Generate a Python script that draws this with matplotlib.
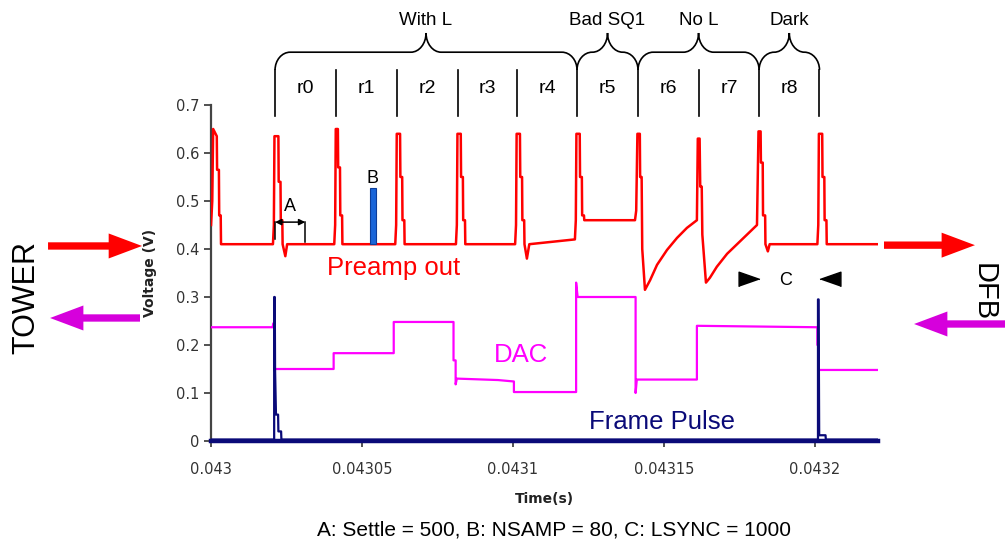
import numpy as np
import matplotlib.pyplot as plt
from matplotlib.path import Path
from matplotlib.patches import PathPatch

plt.rcParams['font.family'] = ['Liberation Sans', 'DejaVu Sans']

T0 = 0.043          # start of the capture window (s)

# row boundaries in us after T0 (one readout row = 20 us)
row_edges_us = [21.2, 41.5, 61.7, 81.8, 101.4, 121.2, 141.4, 161.5, 181.5, 201.5]
row_names = ['r0', 'r1', 'r2', 'r3', 'r4', 'r5', 'r6', 'r7', 'r8']
groups = [('With L', 0, 5), ('Bad SQ1', 5, 6), ('No L', 6, 8), ('Dark', 8, 9)]

# preamp output (V)
preamp_us = [
    0.0, 0.4, 0.7, 1.9, 2.0, 2.6, 2.7, 3.2, 3.3,
    20.5, 20.8, 21.0, 22.3, 22.4, 23.0, 23.1, 23.6, 23.7, 24.6, 25.2,
    40.8, 41.1, 41.3, 42.0, 42.1, 42.7, 42.8, 43.4, 43.5,
    61.0, 61.3, 61.5, 62.6, 62.7, 63.3, 63.4, 64.0, 64.1,
    81.1, 81.4, 81.6, 82.7, 82.8, 83.4, 83.5, 84.1, 84.2,
    100.7, 101.0, 101.2, 102.3, 102.4, 103.0, 103.1, 103.7, 103.8, 104.6, 105.4,
    120.5, 120.8, 121.0, 122.1, 122.2, 122.8, 122.9, 123.5, 123.6, 140.4, 140.8,
    141.2, 142.0, 142.1, 142.6, 142.8, 143.7, 145.4, 147.7, 151.0, 154.3, 157.6, 160.9,
    161.2, 161.8, 162.0, 162.5, 162.7, 163.9, 165.2, 167.5, 170.9, 174.2, 177.5, 180.8,
    181.3, 182.0, 182.1, 182.7, 182.8, 183.5, 183.6, 184.4, 185.0,
    200.8, 201.1, 201.3, 202.4, 202.5, 203.1, 203.2, 203.8, 203.9, 220.9,
]
preamp_v = [
    0.45, 0.50, 0.65, 0.635, 0.565, 0.565, 0.47, 0.47, 0.41,
    0.41, 0.45, 0.635, 0.635, 0.54, 0.54, 0.46, 0.46, 0.41, 0.385, 0.41,
    0.41, 0.45, 0.65, 0.65, 0.57, 0.57, 0.47, 0.47, 0.41,
    0.41, 0.45, 0.64, 0.64, 0.55, 0.55, 0.46, 0.46, 0.41,
    0.41, 0.45, 0.64, 0.64, 0.55, 0.55, 0.46, 0.46, 0.41,
    0.41, 0.45, 0.64, 0.64, 0.55, 0.55, 0.46, 0.46, 0.41, 0.38, 0.41,
    0.42, 0.46, 0.64, 0.64, 0.55, 0.55, 0.47, 0.47, 0.46, 0.46, 0.48,
    0.64, 0.64, 0.55, 0.55, 0.40, 0.315, 0.335, 0.367, 0.398, 0.423, 0.444, 0.46,
    0.63, 0.63, 0.53, 0.53, 0.43, 0.33, 0.34, 0.363, 0.39, 0.41, 0.43, 0.45,
    0.645, 0.645, 0.58, 0.58, 0.47, 0.47, 0.41, 0.395, 0.41,
    0.41, 0.45, 0.64, 0.64, 0.55, 0.55, 0.46, 0.46, 0.41, 0.41,
]

# feedback DAC (V)
dac_us = [0.0, 20.4, 20.6, 20.9, 20.9, 40.6, 40.6, 60.5, 60.5, 80.3, 80.3, 81.0, 81.0,
          81.4, 95.0, 100.3, 100.3, 120.9, 120.9, 121.4, 140.6, 140.6, 141.0, 160.9,
          160.9, 200.8, 200.8, 201.1, 201.1, 220.9]
dac_v = [0.237, 0.237, 0.245, 0.245, 0.15, 0.15, 0.183, 0.183, 0.248, 0.248, 0.168, 0.168,
         0.118, 0.13, 0.127, 0.124, 0.102, 0.102, 0.33, 0.30, 0.30, 0.10, 0.128, 0.128,
         0.24, 0.237, 0.20, 0.20, 0.148, 0.148]

# frame pulse (V)
frame_us = [0.0, 20.9, 20.9, 21.1, 21.2, 21.5, 22.2, 22.3, 23.2, 23.3,
            201.0, 201.0, 201.2, 201.4, 203.5, 203.6, 220.9]
frame_v = [0.003, 0.003, 0.30, 0.30, 0.148, 0.055, 0.055, 0.02, 0.02, 0.003,
           0.003, 0.295, 0.295, 0.012, 0.012, 0.003, 0.003]

xtick_us = [0, 50, 100, 150, 200]
xtick_labels = ['0.043', '0.04305', '0.0431', '0.04315', '0.0432']
ytick_vals = [0, 0.1, 0.2, 0.3, 0.4, 0.5, 0.6, 0.7]
ytick_labels = ['0', '0.1', '0.2', '0.3', '0.4', '0.5', '0.6', '0.7']

settle_us = 10.0      # A: 500 clocks at 50 MHz
nsamp_us = (52.5, 54.7)  # B window
footnote = 'A: Settle = 500, B: NSAMP = 80, C: LSYNC = 1000'


def sec(us):
    return T0 + np.asarray(us) * 1e-6


def brace(ax, x0, x1, yb, ym, yp, r):
    xm = (x0 + x1) / 2
    k = 0.55
    verts = [(x0, yb),
             (x0, yb + k * (ym - yb)), (x0 + r * (1 - k), ym), (x0 + r, ym),
             (xm - r, ym),
             (xm - r * (1 - k), ym), (xm, yp - k * (yp - ym)), (xm, yp),
             (xm, yp - k * (yp - ym)), (xm + r * (1 - k), ym), (xm + r, ym),
             (x1 - r, ym),
             (x1 - r * (1 - k), ym), (x1, yb + k * (ym - yb)), (x1, yb)]
    codes = ([Path.MOVETO] + [Path.CURVE4] * 3 + [Path.LINETO] + [Path.CURVE4] * 6
             + [Path.LINETO] + [Path.CURVE4] * 3)
    ax.add_patch(PathPatch(Path(verts, codes), fill=False, lw=1.2, color='black',
                           clip_on=False, transform=ax.transData))


fig = plt.figure(figsize=(10.05, 5.46), dpi=100)
ax = fig.add_axes([0.2100, 0.1923, 0.6637, 0.6154])

ax.plot(sec(preamp_us), preamp_v, color='#ff0000', lw=1.8, zorder=3)
ax.plot(sec(dac_us), dac_v, color='#ff00ff', lw=1.6, zorder=3)
ax.plot(sec(frame_us), frame_v, color='#0a0a78', lw=1.6, zorder=4)

ax.set_xlim(sec(0), sec(220.9))
ax.set_ylim(0, 0.7)
ax.set_xticks(sec(xtick_us))
ax.set_xticklabels(xtick_labels)
ax.set_yticks(ytick_vals)
ax.set_yticklabels(ytick_labels)
for lab in ax.get_xticklabels() + ax.get_yticklabels():
    lab.set_family('DejaVu Sans')
    lab.set_fontsize(10.5)
    lab.set_color('#1a1a1a')
ax.tick_params(axis='y', direction='out', length=5, width=1.2, pad=3.5, colors='#333333')
ax.tick_params(axis='x', direction='out', length=4, width=1.2, pad=11, colors='#333333')
ax.spines['top'].set_visible(False)
ax.spines['right'].set_visible(False)
ax.spines['left'].set_color('#444444')
ax.spines['left'].set_linewidth(1.6)
ax.spines['bottom'].set_color('#0a0a78')
ax.spines['bottom'].set_linewidth(3.2)

ax.set_ylabel('Voltage (V)', family='DejaVu Sans', fontsize=10, fontweight='bold', color='#222222')
ax.yaxis.set_label_coords(-0.081, 0.5)
ax.set_xlabel('Time(s)', family='DejaVu Sans', fontsize=10, fontweight='bold', color='#222222')
ax.xaxis.set_label_coords(0.5, -0.152)

# trace names
ax.text(sec(60.3), 0.36, 'Preamp out', color='#ff0000', fontsize=18.5, ha='center', va='center')
ax.text(sec(102.6), 0.179, 'DAC', color='#ff00ff', fontsize=18.5, ha='center', va='center')
ax.text(sec(149.3), 0.04, 'Frame Pulse', color='#0a0a78', fontsize=18.5, ha='center', va='center')

# A: settle window after the row switch
a0, a1 = row_edges_us[0], row_edges_us[0] + settle_us
ax.annotate('', xy=(sec(a0), 0.456), xytext=(sec(a1), 0.456),
            arrowprops=dict(arrowstyle='<|-|>', color='black', lw=1.1,
                            mutation_scale=9, shrinkA=0, shrinkB=0), zorder=5)
ax.plot(sec([a0, a0]), [0.456, 0.42], color='black', lw=1.1, zorder=5)
ax.plot(sec([a1, a1]), [0.456, 0.415], color='black', lw=1.1, zorder=5)
ax.text(sec((a0 + a1) / 2), 0.489, 'A', fontsize=13, ha='center', va='center')

# B: sample window
ax.bar(sec((nsamp_us[0] + nsamp_us[1]) / 2), 0.118, bottom=0.41,
       width=(nsamp_us[1] - nsamp_us[0]) * 1e-6, color='#1a66d9', edgecolor='#0d3d99',
       lw=0.8, zorder=5)
ax.text(sec(53.4), 0.547, 'B', fontsize=13, ha='center', va='center')

# C: one line-sync period, marked by inward triangles
tri_r = [(1, 0), (-1, 0.7), (-1, -0.7)]
tri_l = [(-1, 0), (1, 0.7), (1, -0.7)]
ax.plot(sec(row_edges_us[8] - 3.5), 0.337, marker=tri_r, ms=15, color='black', clip_on=False)
ax.plot(sec(row_edges_us[9] + 3.5), 0.337, marker=tri_l, ms=15, color='black', clip_on=False)
ax.text(sec(190.3), 0.335, 'C', fontsize=13, ha='center', va='center')

# row separators and labels above the plot
for xe in row_edges_us:
    ax.plot(sec([xe, xe]), [0.677, 0.773], color='black', lw=1.2, clip_on=False)
for i, name in enumerate(row_names):
    xc = (row_edges_us[i] + row_edges_us[i + 1]) / 2
    ax.text(sec(xc), 0.735, name, fontsize=14, ha='center', va='center')
for name, i0, i1 in groups:
    x0, x1 = sec(row_edges_us[i0]), sec(row_edges_us[i1])
    brace(ax, x0, x1, 0.773, 0.81, 0.85, 5e-6)
    ax.text((x0 + x1) / 2, 0.877, name, fontsize=13.5, ha='center', va='center')

# TOWER / DFB signal direction
arrow_kw = dict(arrowstyle='simple,head_length=1.0,head_width=0.75,tail_width=0.22',
                mutation_scale=24, shrinkA=0, shrinkB=0, lw=0)
ax.annotate('', xy=(0.1413, 0.5495), xytext=(0.0478, 0.5495), xycoords='figure fraction',
            arrowprops=dict(color='#ff0000', **arrow_kw))
ax.annotate('', xy=(0.0498, 0.4176), xytext=(0.1393, 0.4176), xycoords='figure fraction',
            arrowprops=dict(color='#d600dc', **arrow_kw))
ax.annotate('', xy=(0.9701, 0.551), xytext=(0.8796, 0.551), xycoords='figure fraction',
            arrowprops=dict(color='#ff0000', **arrow_kw))
ax.annotate('', xy=(0.9095, 0.4066), xytext=(1.0, 0.4066), xycoords='figure fraction',
            arrowprops=dict(color='#d600dc', **arrow_kw))
fig.text(0.0259, 0.456, 'TOWER', fontsize=22, rotation=90, ha='center', va='center')
fig.text(0.979, 0.465, 'DFB', fontsize=21, rotation=-90, ha='center', va='center')

fig.text(0.551, 0.029, footnote, fontsize=15, ha='center', va='center')

fig.savefig('out.png', dpi=100)
